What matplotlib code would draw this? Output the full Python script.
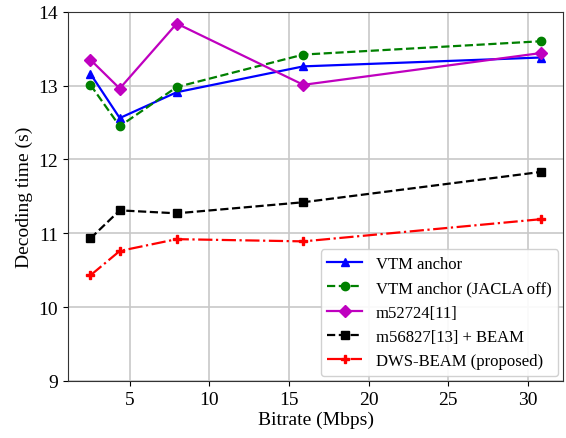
import matplotlib
matplotlib.use("Agg")
import matplotlib.pyplot as plt

plt.rcParams['font.family'] = ['Liberation Serif', 'DejaVu Serif']
plt.rcParams['font.size'] = 14

# Bitrate (Mbps) per rate point
bitrate = [2.53, 4.37, 7.95, 15.9, 30.8]

# Decoding time (s)
vtm_anchor = [13.16, 12.56, 12.91, 13.26, 13.38]
vtm_jacla_off = [13.01, 12.45, 12.98, 13.42, 13.60]
m52724 = [13.35, 12.96, 13.84, 13.01, 13.44]
m56827_beam = [10.93, 11.31, 11.27, 11.42, 11.83]
dws_beam = [10.43, 10.76, 10.92, 10.89, 11.19]

fig = plt.figure(figsize=(5.66, 4.39), dpi=100)
ax = fig.add_axes([0.120, 0.130, 0.875, 0.841])

ax.plot(bitrate, vtm_anchor, color='blue', marker='^', markersize=6,
        linewidth=1.6, linestyle='-', label='VTM anchor')
ax.plot(bitrate, vtm_jacla_off, color='green', marker='o', markersize=6,
        linewidth=1.6, linestyle='--', label='VTM anchor (JACLA off)')
ax.plot(bitrate, m52724, color='m', marker='D', markersize=6,
        linewidth=1.6, linestyle='-', label='m52724[11]')
ax.plot(bitrate, m56827_beam, color='black', marker='s', markersize=5.5,
        linewidth=1.6, linestyle='--', label='m56827[13] + BEAM')
ax.plot(bitrate, dws_beam, color='red', marker='P', markersize=6,
        linewidth=1.6, linestyle='-.', label='DWS-BEAM (proposed)')

ax.set_ylim(9, 14)
ax.set_xticks([5, 10, 15, 20, 25, 30])
ax.set_xlabel('Bitrate (Mbps)', labelpad=2)
ax.set_ylabel('Decoding time (s)')
ax.grid(True, color='#c8c8c8', linewidth=1.2)
ax.set_axisbelow(True)
for s in ax.spines.values():
    s.set_color('#333333')
ax.legend(loc='lower right', fontsize=12, framealpha=0.9, handlelength=2.1,
          borderaxespad=0.3, labelspacing=0.5, handletextpad=0.8)

fig.savefig('out.png', dpi=100)
